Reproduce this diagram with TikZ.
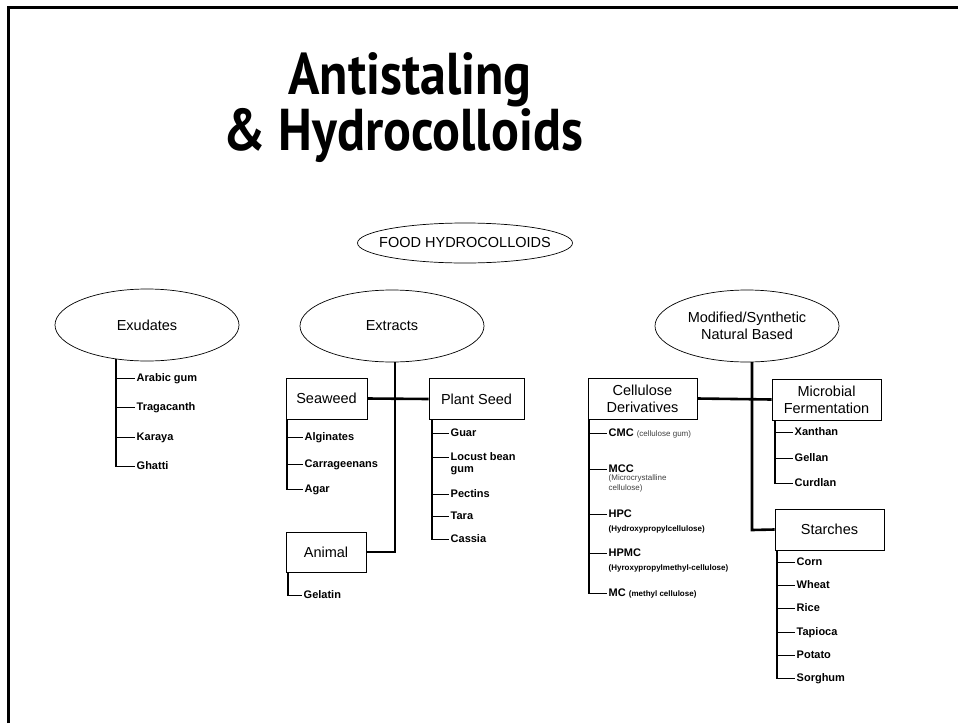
\documentclass[tikz,border=0pt]{standalone}
\usepackage{fontspec}
\setmainfont{Liberation Sans}
\newfontfamily\titlefont[FakeStretch=0.88]{PT Sans}
\usetikzlibrary{shapes.geometric,backgrounds}
\begin{document}
\begin{tikzpicture}[x=1pt,y=-1pt,
  oval/.style={ellipse,draw,line width=0.7pt,fill=white,inner sep=0pt,minimum width=184pt,minimum height=72pt,align=center,font=\fontsize{14.5}{17}\selectfont},
  box/.style={rectangle,draw,line width=0.8pt,fill=white,inner sep=0pt,align=center,font=\fontsize{14.5}{17}\selectfont},
  item/.style={anchor=west,inner xsep=1.5pt,inner ysep=0pt,text height=6pt,text depth=0pt,font=\bfseries\fontsize{11}{12.5}\selectfont},
  note/.style={anchor=west,inner xsep=0pt,inner ysep=0pt,font=\fontsize{8}{9.5}\selectfont,text=black!75},
  bnote/.style={anchor=west,inner xsep=0pt,inner ysep=0pt,font=\bfseries\fontsize{8}{9.5}\selectfont},
  spine/.style={line width=2.6pt},
  tick/.style={line width=0.7pt},
  frame/.style={line width=3pt},
  title/.style={anchor=base,font=\titlefont\bfseries\fontsize{59}{66}\selectfont}
]
\useasboundingbox (0,0) rectangle (958,723);

% frame
\coordinate (fBL) at (8,723);
\coordinate (fTL) at (8,7);
\coordinate (fTR) at (958,7);
\draw[frame] (fBL) -- (fTL) -- (fTR);

% title
\node[title] (t1) at (410,94) {Antistaling};
\node[title] (t2) at (403,150) {\& Hydrocolloids};

% ellipses
\node[oval,minimum width=215pt,minimum height=40pt] (food) at (465,243) {\makebox[0pt]{FOOD HYDROCOLLOIDS}};
\node[oval] (exu) at (147,325) {Exudates};
\node[oval] (ext) at (392,326) {Extracts};
\node[oval] (mod) at (747,326) {Modified/Synthetic\\Natural Based};

% boxes
\node[box,minimum width=81pt,minimum height=41pt] (sea) at (326.5,398.5) {Seaweed};
\node[box,minimum width=95pt,minimum height=41pt] (plant) at (476.5,399) {Plant Seed};
\node[box,minimum width=80pt,minimum height=40pt] (ani) at (326,552) {Animal};
\node[box,minimum width=109pt,minimum height=41pt] (cell) at (642.5,398.5) {Cellulose\\Derivatives};
\node[box,minimum width=109pt,minimum height=41pt] (mic) at (826.5,399.5) {Microbial\\Fermentation};
\node[box,minimum width=109pt,minimum height=41pt] (sta) at (829.5,529.5) {Starches};

% exudates items
\node[item] (ex1) at (135,378) {Arabic gum};
\node[item] (ex2) at (135,407) {Tragacanth};
\node[item] (ex3) at (135,437) {Karaya};
\node[item] (ex4) at (135,466) {Ghatti};

% seaweed items
\node[item] (sw1) at (303,437) {Alginates};
\node[item] (sw2) at (303,464) {Carrageenans};
\node[item] (sw3) at (303,489) {Agar};

% animal items
\node[item] (an1) at (302,595) {Gelatin};

% plant seed items
\node[item] (ps1) at (449,433) {Guar};
\node[item] (ps2) at (449,457) {Locust bean};
\node[item] (ps2b) at (449,469) {gum};
\node[item] (ps3) at (449,494) {Pectins};
\node[item] (ps4) at (449,516) {Tara};
\node[item] (ps5) at (449,539) {Cassia};

% cellulose items
\node[item] (c1) at (607,433) {CMC {\mdseries\fontsize{8}{9}\selectfont\color{black!75}(cellulose gum)}};
\node[item] (c2) at (607,469) {MCC};
\node[note] (c2a) at (608.5,478) {(Microcrystalline};
\node[note] (c2b) at (608.5,488) {cellulose)};
\node[item] (c3) at (607,514) {HPC};
\node[bnote] (c3a) at (608.5,529) {(Hydroxypropylcellulose)};
\node[item] (c4) at (607,553) {HPMC};
\node[bnote] (c4a) at (608.5,568) {(Hyroxypropylmethyl-cellulose)};
\node[item] (c5) at (607,593) {MC {\fontsize{8}{9}\selectfont(methyl cellulose)}};

% microbial items
\node[item] (m1) at (793,432) {Xanthan};
\node[item] (m2) at (793,458) {Gellan};
\node[item] (m3) at (793,483) {Curdlan};

% starches items
\node[item] (s1) at (795,562) {Corn};
\node[item] (s2) at (795,585) {Wheat};
\node[item] (s3) at (795,608) {Rice};
\node[item] (s4) at (795,632) {Tapioca};
\node[item] (s5) at (795,655) {Potato};
\node[item] (s6) at (795,678) {Sorghum};

% spine end points
\coordinate (exS) at (116,467);
\coordinate (extB) at (395,552);
\coordinate (seS) at (287,490);
\coordinate (anS) at (288,596);
\coordinate (plS) at (432,540);
\coordinate (modB) at (752,530);
\coordinate (ceS) at (589,594);
\coordinate (miS) at (775,484);
\coordinate (stS) at (777,679);

\begin{scope}[on background layer]
  % main spines
  \draw[spine] (exu.center -| exS) -- (exS);
  \draw[spine] (ext.center -| extB) -- (extB) -- (ani.east);
  \draw[spine] (sea.east) -- (plant.west);
  \draw[spine] (mod.center -| modB) -- (modB) -- (sta.west);
  \draw[spine] (cell.east) -- (mic.west);
  % sub spines
  \draw[spine] (sea.south -| seS) -- (seS);
  \draw[spine] (ani.south -| anS) -- (anS);
  \draw[spine] (plant.south -| plS) -- (plS);
  \draw[spine] (cell.south -| ceS) -- (ceS);
  \draw[spine] (mic.south -| miS) -- (miS);
  \draw[spine] (sta.south -| stS) -- (stS);
  % ticks
  \foreach \n in {ex1,ex2,ex3,ex4} \draw[tick] (\n.west -| exS) -- (\n.west);
  \foreach \n in {sw1,sw2,sw3} \draw[tick] (\n.west -| seS) -- (\n.west);
  \foreach \n in {an1} \draw[tick] (\n.west -| anS) -- (\n.west);
  \foreach \n in {ps1,ps2,ps3,ps4,ps5} \draw[tick] (\n.west -| plS) -- (\n.west);
  \foreach \n in {c1,c2,c3,c4,c5} \draw[tick] (\n.west -| ceS) -- (\n.west);
  \foreach \n in {m1,m2,m3} \draw[tick] (\n.west -| miS) -- (\n.west);
  \foreach \n in {s1,s2,s3,s4,s5,s6} \draw[tick] (\n.west -| stS) -- (\n.west);
\end{scope}
\end{tikzpicture}
\end{document}
